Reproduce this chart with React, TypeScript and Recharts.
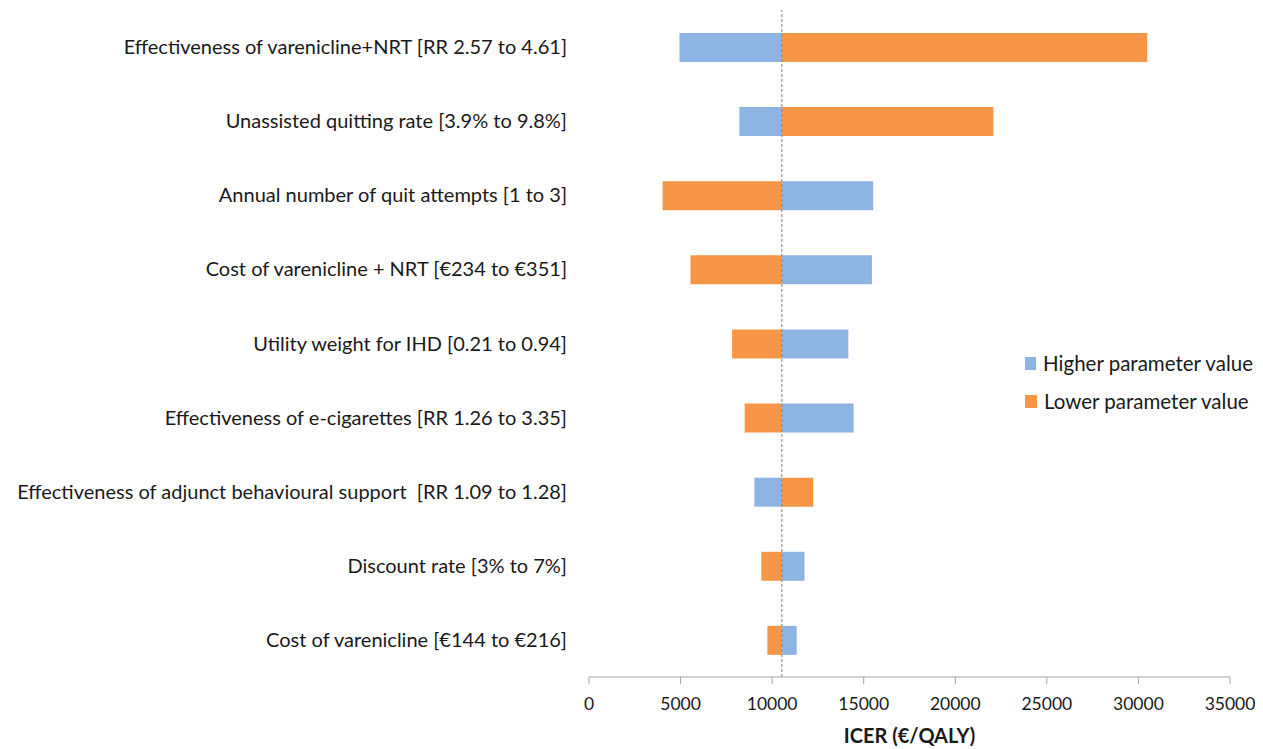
import React from "react";
import {
  BarChart,
  Bar,
  XAxis,
  YAxis,
  ReferenceLine,
  Legend,
  Label,
} from "recharts";

const categories = [
  "Effectiveness of varenicline+NRT [RR 2.57 to 4.61]",
  "Unassisted quitting rate [3.9% to 9.8%]",
  "Annual number of quit attempts [1 to 3]",
  "Cost of varenicline + NRT [€234 to €351]",
  "Utility weight for IHD [0.21 to 0.94]",
  "Effectiveness of e-cigarettes [RR 1.26 to 3.35]",
  "Effectiveness of adjunct behavioural support  [RR 1.09 to 1.28]",
  "Discount rate [3% to 7%]",
  "Cost of varenicline [€144 to €216]",
];

const baseline = 10530;
const higherValues = [4940, 8210, 15520, 15450, 14160, 14450, 9030, 11770, 11340];
const lowerValues = [30480, 22080, 4020, 5540, 7810, 8500, 12240, 9410, 9740];
const xTicks = [0, 5000, 10000, 15000, 20000, 25000, 30000, 35000];

const BLUE = "#8EB4E3";
const ORANGE = "#F79646";
const FONT = "Lato, 'Open Sans', sans-serif";

const data = categories.map((name, i) => ({
  name,
  higher: [Math.min(baseline, higherValues[i]), Math.max(baseline, higherValues[i])],
  lower: [Math.min(baseline, lowerValues[i]), Math.max(baseline, lowerValues[i])],
}));

const legendItems = [
  { label: "Higher parameter value", color: BLUE },
  { label: "Lower parameter value", color: ORANGE },
];

const renderLegend = () => (
  <div style={{ fontFamily: FONT, fontSize: 20.5, color: "#1a1a1a" }}>
    {legendItems.map((it) => (
      <div
        key={it.label}
        style={{ display: "flex", alignItems: "center", height: 38, whiteSpace: "nowrap" }}
      >
        <span
          style={{
            display: "inline-block",
            width: 12,
            height: 13,
            background: it.color,
            marginRight: 7,
          }}
        />
        <span>{it.label}</span>
      </div>
    ))}
  </div>
);

const CategoryTick = (props: any) => {
  const { x, y, payload } = props;
  return (
    <text
      x={x}
      y={y}
      dy="0.355em"
      textAnchor="end"
      fontFamily={FONT}
      fontSize={20}
      fill="#1a1a1a"
      style={{ whiteSpace: "pre" }}
    >
      {payload.value}
    </text>
  );
};

export default function App() {
  return (
    <div style={{ width: 1247, height: 741 }}>
      <BarChart
        width={1247}
        height={741}
        data={data}
        layout="vertical"
        margin={{ top: 2, right: 25, bottom: 0, left: 0 }}
      >
        <XAxis
          type="number"
          domain={[0, 35000]}
          ticks={xTicks}
          interval={0}
          allowDataOverflow
          height={72}
          axisLine={{ stroke: "#a6a6a6" }}
          tickLine={{ stroke: "#a6a6a6" }}
          tickSize={7}
          tickMargin={14}
          tick={{ fontFamily: FONT, fontSize: 17.5, fill: "#1a1a1a" }}
        >
          <Label
            value="ICER (€/QALY)"
            position="insideBottom"
            offset={6}
            style={{ fontFamily: FONT, fontSize: 20, fontWeight: 700, fill: "#1a1a1a" }}
          />
        </XAxis>
        <YAxis
          yAxisId="a"
          type="category"
          dataKey="name"
          width={581}
          axisLine={false}
          tickLine={false}
          tickSize={0}
          tickMargin={22}
          interval={0}
          tick={<CategoryTick />}
        />
        <YAxis yAxisId="b" type="category" dataKey="name" hide width={0} />
        <Bar
          yAxisId="a"
          dataKey="higher"
          name="Higher parameter value"
          fill={BLUE}
          barSize={29}
          isAnimationActive={false}
        />
        <Bar
          yAxisId="b"
          dataKey="lower"
          name="Lower parameter value"
          fill={ORANGE}
          barSize={29}
          isAnimationActive={false}
        />
        <ReferenceLine
          yAxisId="a"
          x={baseline}
          stroke="#808080"
          strokeDasharray="3 2"
          strokeWidth={1}
        />
        <Legend
          content={renderLegend}
          layout="vertical"
          align="center"
          verticalAlign="middle"
          wrapperStyle={{ left: 1017, top: 336, width: 228, right: "auto", bottom: "auto" }}
        />
      </BarChart>
    </div>
  );
}
